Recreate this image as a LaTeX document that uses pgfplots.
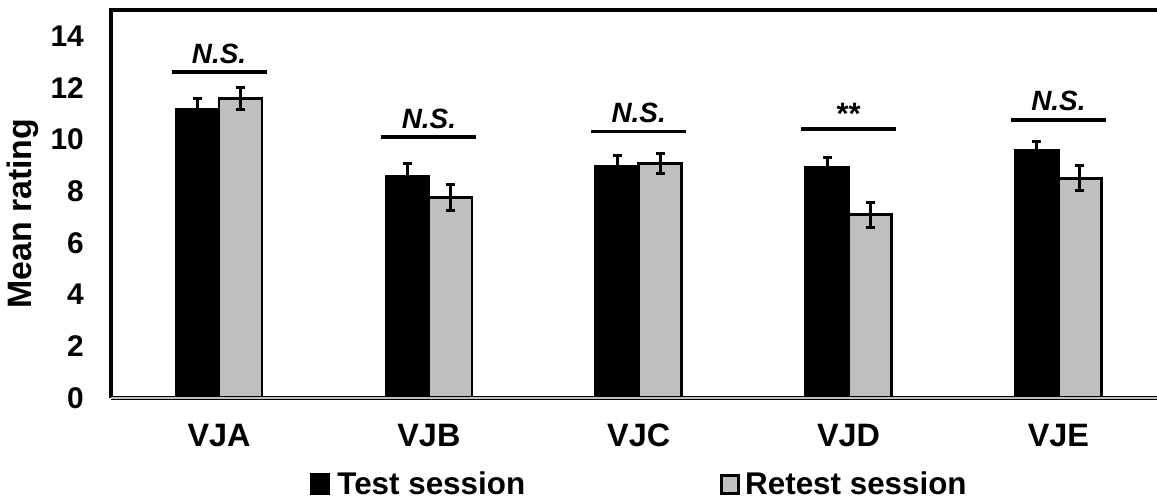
\documentclass[border=0pt]{standalone}
\usepackage{fontspec}
\setmainfont{Liberation Sans}
\usepackage{pgfplots}
\pgfplotsset{compat=1.18}

\definecolor{retestgray}{RGB}{191,191,191}

\newcommand{\sz}[1]{\bfseries\fontsize{#1}{#1}\selectfont}

\begin{document}
\begin{tikzpicture}
\path[use as bounding box] (-111bp,-104bp) rectangle (1046bp,398bp);
\begin{axis}[
  at={(0,0)}, anchor=south west,
  scale only axis,
  width=1046bp, height=388bp,
  xmin=-0.515, xmax=4.47,
  ymin=0, ymax=15,
  clip=false,
  axis line style={draw=none},
  major tick length=0pt,
  ytick={0,2,...,14},
  xtick={0,1,2,3,4},
  xticklabels={VJA,VJB,VJC,VJD,VJE},
  /pgf/number format/assume math mode=true,
  yticklabel style={font=\sz{30}, anchor=east, inner sep=0pt, xshift=-27bp},
  xticklabel style={font=\sz{32.5}, text height=24bp, text depth=0pt, yshift=-21bp},
  ylabel={Mean rating},
  ylabel style={font=\sz{34}, at={(axis description cs:-0.084,0.475)}, anchor=center},
  ybar,
  legend columns=2,
  legend style={at={(axis description cs:0.190,-0.222)}, anchor=west,
    draw=none, fill=none, inner sep=0pt, font=\sz{31.5},
    /tikz/every even column/.append style={column sep=193bp}},
]

% test session
\addplot[forget plot, bar width=0.205, bar shift=-0.1025,
  fill=black, draw=black, line width=2.7bp,
  error bars/.cd, y dir=both, y explicit,
  error bar style={line width=3bp, black},
  error mark options={rotate=90, mark size=4.5bp, line width=3bp, black}]
  coordinates {
    (0,11.17) +- (0,0.40)
    (1,8.58)  +- (0,0.48)
    (2,8.94)  +- (0,0.45)
    (3,8.90)  +- (0,0.39)
    (4,9.57)  +- (0,0.34)
  };

% retest session
\addplot[forget plot, bar width=0.205, bar shift=0.1025,
  fill=retestgray, draw=black, line width=2.7bp,
  error bars/.cd, y dir=both, y explicit,
  error bar style={line width=3bp, black},
  error mark options={rotate=90, mark size=4.5bp, line width=3bp, black}]
  coordinates {
    (0,11.58) +- (0,0.43)
    (1,7.74)  +- (0,0.50)
    (2,9.07)  +- (0,0.40)
    (3,7.09)  +- (0,0.48)
    (4,8.49)  +- (0,0.48)
  };

\addlegendimage{legend image code/.code={\draw[fill=black, draw=black, line width=2.5bp] (0bp,-9.5bp) rectangle (18bp,9.5bp);}}
\addlegendentry{\hspace{5bp}Test session}
\addlegendimage{legend image code/.code={\draw[fill=retestgray, draw=black, line width=3bp] (0bp,-9bp) rectangle (17bp,9bp);}}
\addlegendentry{\hspace{3bp}Retest session}

% frame: left, top and doubled bottom line
\draw[line width=3.3bp] (rel axis cs:0,0) -- (rel axis cs:0,1) -- (rel axis cs:1.02,1);
\draw[line width=1.4bp, double=retestgray, double distance=1.3bp] (rel axis cs:0,0) -- (rel axis cs:1.02,0);

% significance brackets
\draw[line width=3.2bp] (axis cs:-0.2265,12.60) -- (axis cs:0.2265,12.60);
\node[font=\bfseries\itshape\fontsize{28}{28}\selectfont, anchor=base, yshift=9bp] at (axis cs:0,12.60) {N.S.};
\draw[line width=3.2bp] (axis cs:0.7735,10.09) -- (axis cs:1.2265,10.09);
\node[font=\bfseries\itshape\fontsize{28}{28}\selectfont, anchor=base, yshift=9bp] at (axis cs:1,10.09) {N.S.};
\draw[line width=3.2bp] (axis cs:1.7735,10.29) -- (axis cs:2.2265,10.29);
\node[font=\bfseries\itshape\fontsize{28}{28}\selectfont, anchor=base, yshift=9bp] at (axis cs:2,10.29) {N.S.};
\draw[line width=3.2bp] (axis cs:2.7735,10.40) -- (axis cs:3.2265,10.40);
\node[font=\bfseries\fontsize{31}{31}\selectfont, anchor=base, yshift=4bp] at (axis cs:3,10.40) {**};
\draw[line width=3.2bp] (axis cs:3.7735,10.75) -- (axis cs:4.2265,10.75);
\node[font=\bfseries\itshape\fontsize{28}{28}\selectfont, anchor=base, yshift=9bp] at (axis cs:4,10.75) {N.S.};
\end{axis}
\end{tikzpicture}
\end{document}
